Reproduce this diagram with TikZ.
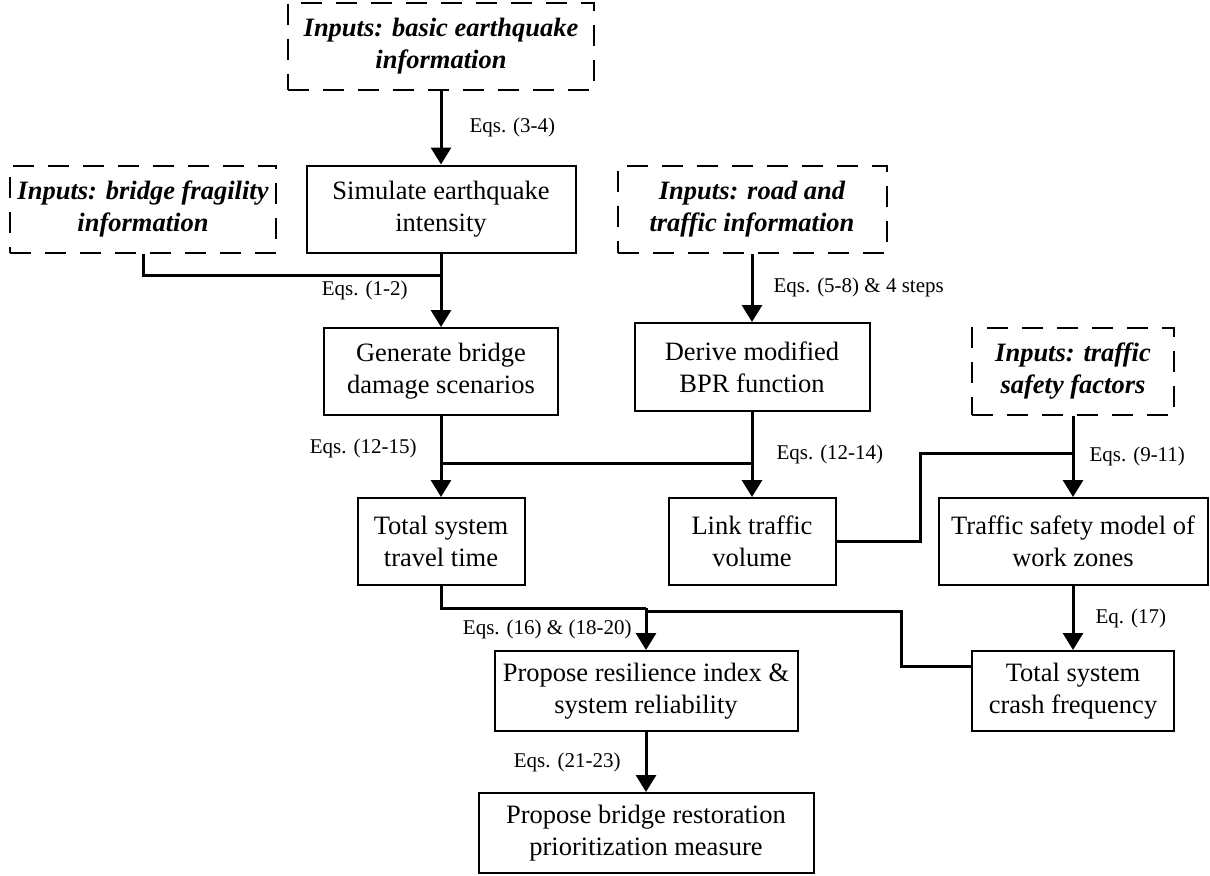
\documentclass[tikz,border=0pt]{standalone}
\usepackage{fontspec}
\setmainfont{Liberation Serif}
\usetikzlibrary{arrows.meta}
\begin{document}
\begin{tikzpicture}[x=0.5pt, y=-0.5pt,
	box/.style={draw, line width=1pt, align=center, inner sep=0pt, minimum height=43.5pt, font=\fontsize{13.25}{16}\selectfont},
	inbox/.style={box, dash pattern=on 10.5pt off 7pt, font=\fontsize{13.25}{16}\selectfont\bfseries\itshape},
	arr/.style={line width=1.5pt, -{Triangle[length=8.5pt, width=10pt]}},
	ln/.style={line width=1.5pt},
	eq/.style={inner sep=0pt, font=\fontsize{10.5}{12}\selectfont}]
			\useasboundingbox (0,0) rectangle (1210,875);

			\node[inbox, minimum width=153pt] (basic) at (441,46) {Inputs: basic earthquake\\information};
			\node[inbox, minimum width=133pt] (frag) at (143,209) {Inputs: bridge fragility\\information};
			\node[box, minimum width=134.5pt] (sim) at (441,209) {Simulate earthquake\\intensity};
			\node[inbox, minimum width=134.5pt] (road) at (752,209) {Inputs: road and\\traffic information};
			\node[box, minimum width=117pt] (gen) at (441,371.5) {Generate bridge\\damage scenarios};
			\node[box, minimum width=117.5pt, minimum height=44pt] (der) at (752,367) {Derive modified\\BPR function};
			\node[inbox, minimum width=101pt] (fac) at (1073,371.5) {Inputs: traffic\\safety factors};
			\node[box, minimum width=83.5pt] (tot) at (441,541.5) {Total system\\travel time};
			\node[box, minimum width=83.5pt] (link) at (752,541.5) {Link traffic\\volume};
			\node[box, minimum width=134.5pt] (saf) at (1073,541.5) {Traffic safety model of\\work zones};
			\node[box, minimum width=151.5pt, minimum height=40pt] (res) at (646,691) {Propose resilience index \&\\system reliability};
			\node[box, minimum width=101pt, minimum height=40pt] (crash) at (1073,691) {Total system\\crash frequency};
			\node[box, minimum width=167.5pt, minimum height=40pt] (rest) at (646,833) {Propose bridge restoration\\prioritization measure};

			\coordinate (j1) at (441,275);
			\coordinate (j2) at (441,463);
			\coordinate (j3) at (752,463);
			\coordinate (j4) at (646,608);
			\coordinate (k1) at (920,453);
			\coordinate (k2) at (1073,453);
			\coordinate (k3) at (901,611);
			\coordinate (k4) at (646,611);

			\draw[arr] (basic) -- node[eq, right=13.5pt] {Eqs. (3-4)} (sim);
			\draw[ln] (frag) |- (j1);
			\draw[arr] (sim) -- node[eq, left=16pt] {Eqs. (1-2)} (gen);
			\draw[arr] (road) -- node[eq, right=10pt] {Eqs. (5-8) \& 4 steps} (der);
			\draw[arr] (gen) -- node[eq, left=11.5pt, pos=0.4] {Eqs. (12-15)} (tot);
			\draw[ln] (j2) -- (j3);
			\draw[arr] (der) -- node[eq, right=11.5pt] {Eqs. (12-14)} (link);
			\draw[ln] (link) -| (k1) -- (k2);
			\draw[arr] (fac) -- node[eq, right=7.5pt] {Eqs. (9-11)} (saf);
			\draw[arr] (saf) -- node[eq, right=10.5pt] {Eq. (17)} (crash);
			\draw[ln] (tot) |- (j4);
			\draw[ln] ([yshift=12.5pt]crash.west) -| (k3) -- (k4);
			\draw[arr] (j4) -- node[eq, left=6.5pt] {Eqs. (16) \& (18-20)} (res);
			\draw[arr] (res) -- node[eq, left=12pt] {Eqs. (21-23)} (rest);
		\end{tikzpicture}
\end{document}
